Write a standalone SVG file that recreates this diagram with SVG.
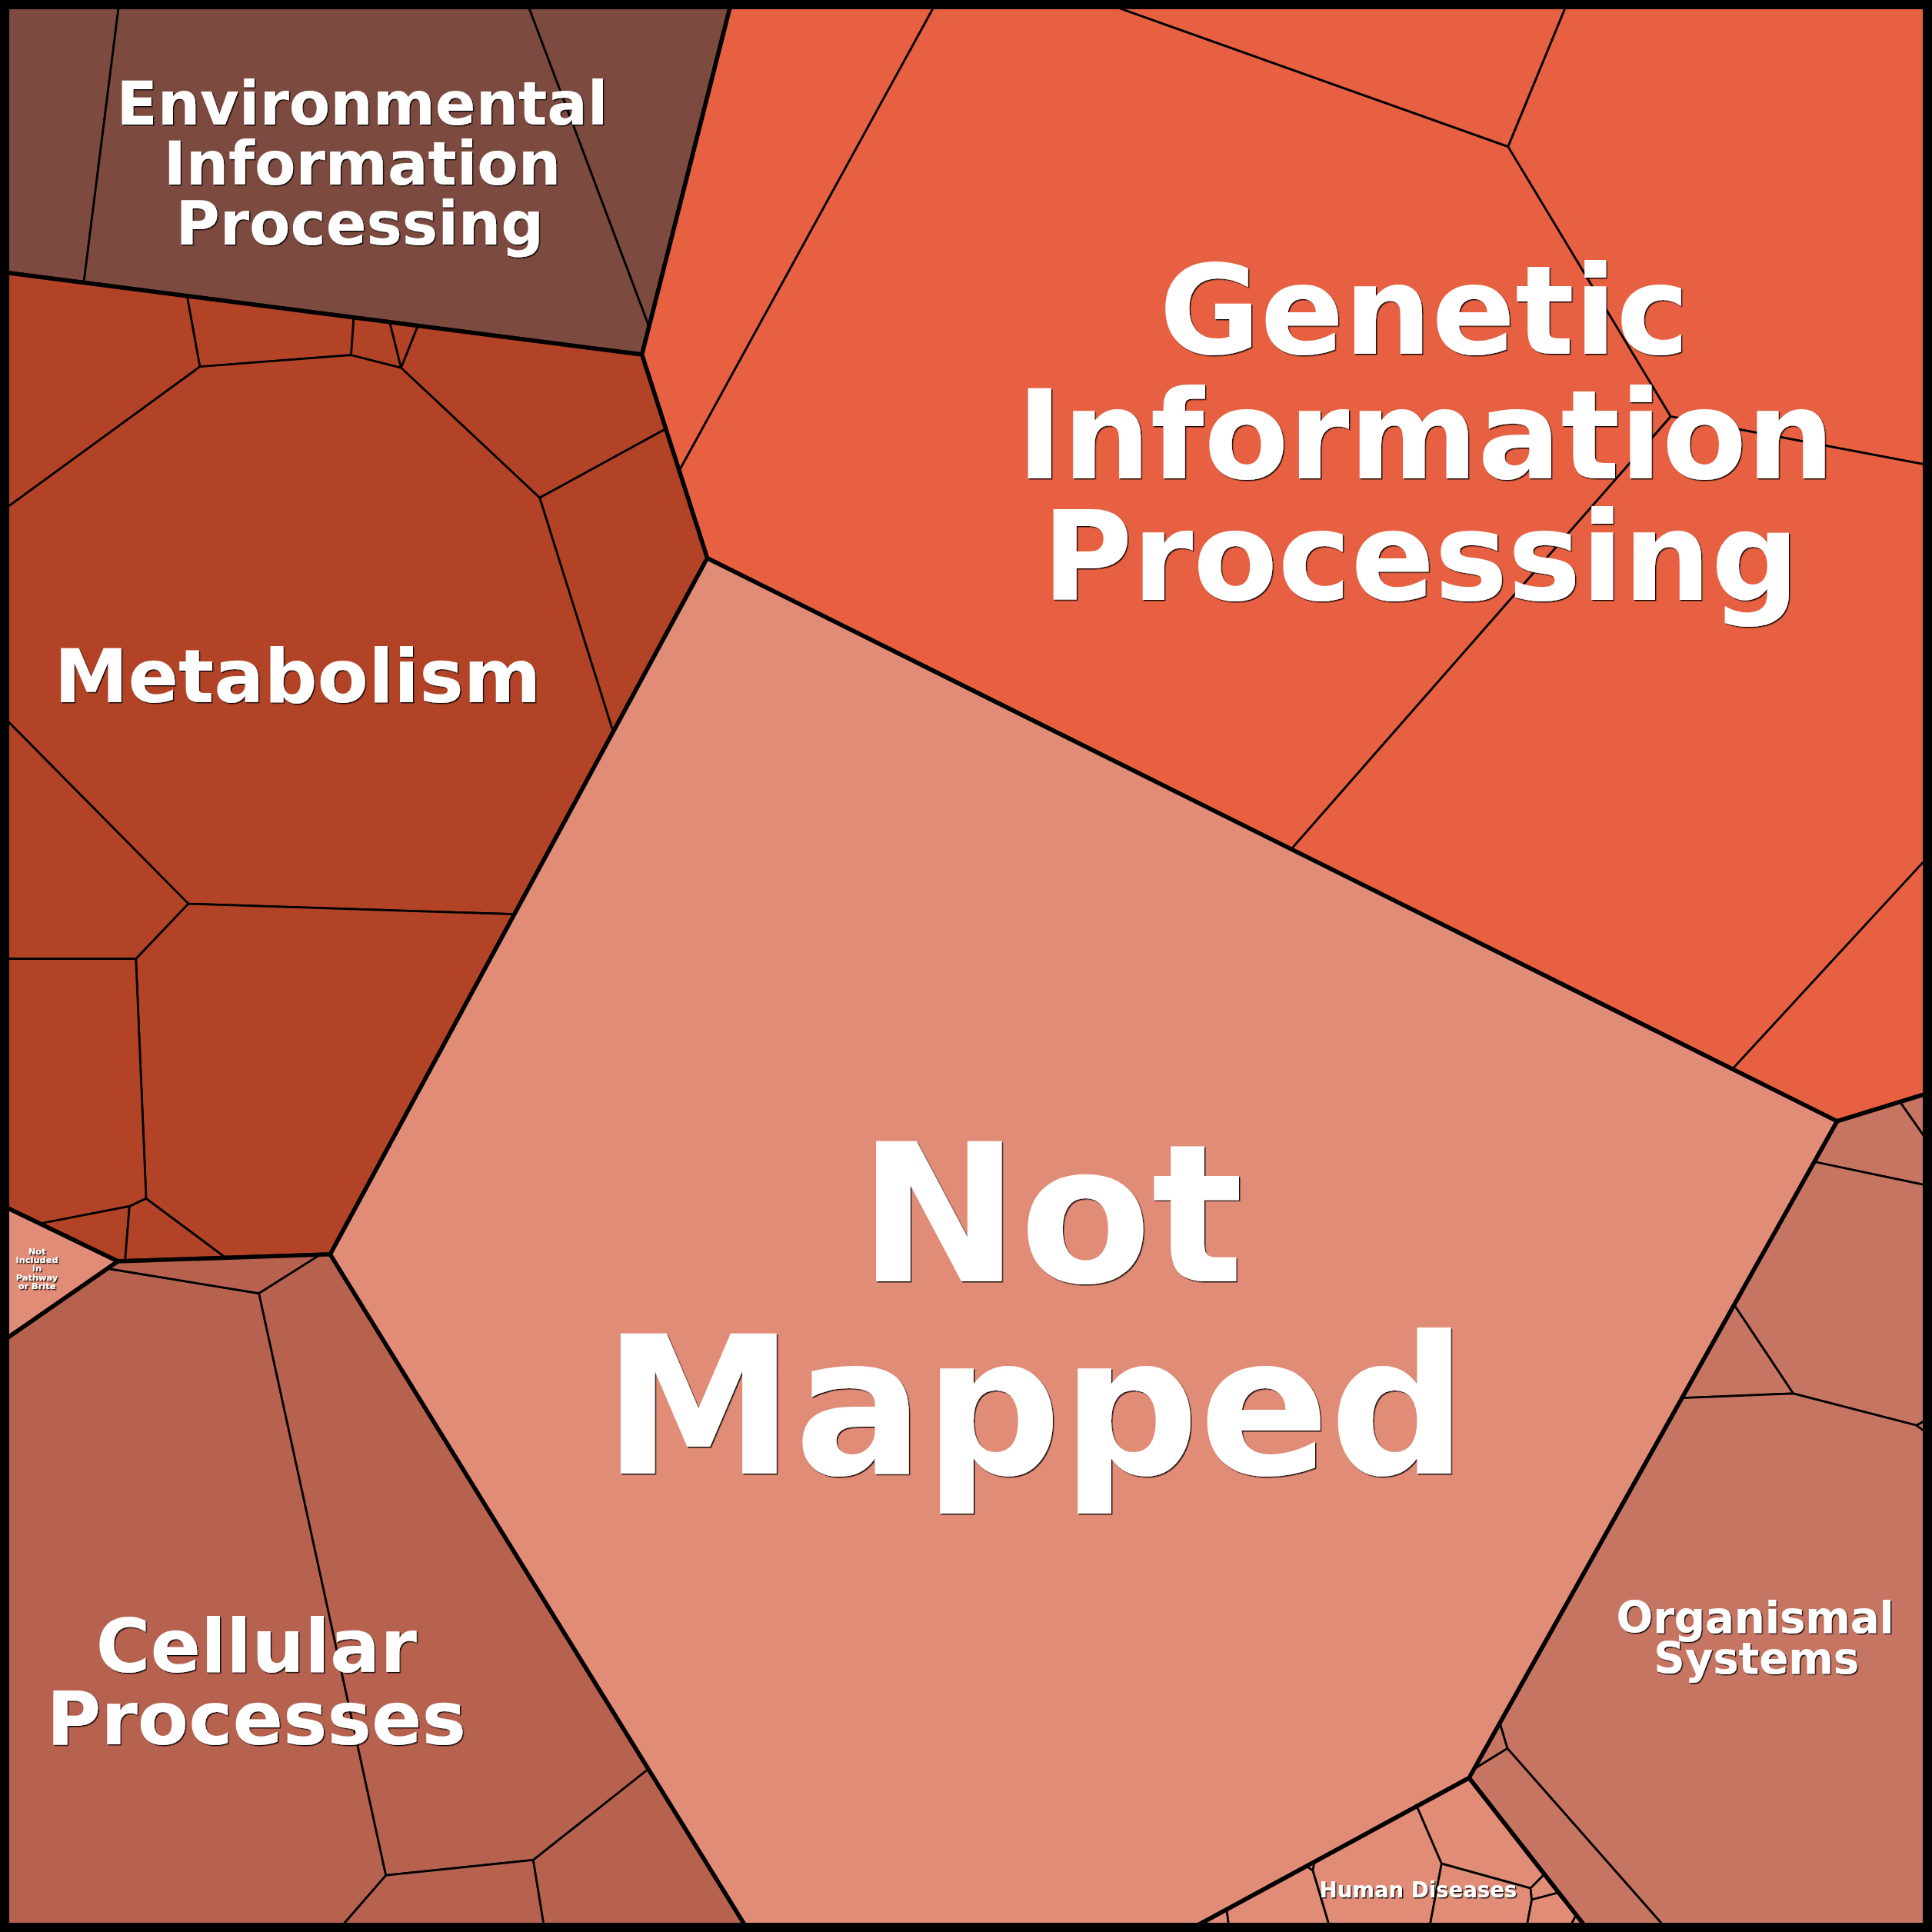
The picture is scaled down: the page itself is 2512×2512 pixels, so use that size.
<svg xmlns="http://www.w3.org/2000/svg" width="2512" height="2512" viewBox="0 0 2512 2512">
<style>
.c{stroke:#000;stroke-width:1.7;stroke-linejoin:round}
.o{fill:none;stroke:#000;stroke-width:3.4;stroke-linejoin:round}
.env{fill:#7C4A3F}
.gen{fill:#E66041}
.met{fill:#B34327}
.nm{fill:#E18C77}
.cel{fill:#B7624F}
.org{fill:#C77563}
.hd{fill:#E18C77}
.l{font-family:"DejaVu Sans","Liberation Sans",sans-serif;font-weight:bold;fill:#fff;text-anchor:middle}
</style>
<defs>
<filter id="sh" x="-5%" y="-5%" width="115%" height="120%">
<feDropShadow dx="0.9" dy="0.9" stdDeviation="0.35" flood-color="#000" flood-opacity="0.9"/>
</filter>
</defs>
<g transform="scale(1.60204)">
<g id="environmental">
<polygon class="c env" points="0,0 97,0 68,229.4 0,220.6"/>
<polygon class="c env" points="97,0 427,0 526.8,265 521,287.8 68,229.4"/>
<polygon class="c env" points="427,0 594,0 526.8,265"/>
<polygon class="o" points="0,0 594,0 521,287.8 0,220.6"/>
<text class="l" filter="url(#sh)" font-size="48.6" x="294"><tspan x="294" y="101">Environmental</tspan><tspan x="294" y="149.8">Information</tspan><tspan x="292" y="198.7">Processing</tspan></text>
</g>
<g id="genetic">
<polygon class="c gen" points="594,0 761,0 551.3,382 521,287.8"/>
<polygon class="c gen" points="761,0 890,0 1224,119 1356,338 1048,689.2 574,453 551.3,382"/>
<polygon class="c gen" points="890,0 1273,0 1224,119"/>
<polygon class="c gen" points="1273,0 1568,0 1568,378 1356,338 1224,119"/>
<polygon class="c gen" points="1356,338 1568,378 1568,692 1406,867.7 1048,689.2"/>
<polygon class="c gen" points="1568,692 1568,886.3 1491,910 1406,867.7"/>
<polygon class="o" points="594,0 1568,0 1568,886.3 1491,910 574,453 521,287.8"/>
<text class="l" filter="url(#sh)" font-size="100" x="1156"><tspan x="1156" y="287">Genetic</tspan><tspan x="1157" y="388">Information</tspan><tspan x="1153" y="487">Processing</tspan></text>
</g>
<g id="metabolism">
<polygon class="c met" points="0,220.6 151.9,240.2 162.3,297.6 0,416"/>
<polygon class="c met" points="151.9,240.2 287.1,257.9 285,288.2 162.3,297.6"/>
<polygon class="c met" points="287.1,257.9 316.3,261.5 325.6,298.6 285,288.2"/>
<polygon class="c met" points="316.3,261.5 339.1,264.5 325.6,298.6"/>
<polygon class="c met" points="339.1,264.5 521,287.8 540.5,348 438,404 325.6,298.6"/>
<polygon class="c met" points="540.5,348 574,453 497.6,594 438,404"/>
<polygon class="c met" points="0,416 162.3,297.6 285,288.2 325.6,298.6 438,404 497.6,594 417.5,742 152.9,733.5 0,579"/>
<polygon class="c met" points="0,579 152.9,733.5 110.3,778.2 0,778.2"/>
<polygon class="c met" points="152.9,733.5 417.5,742 268,1018 183.1,1020.8 118.6,972.7 110.3,778.2"/>
<polygon class="c met" points="0,778.2 110.3,778.2 118.6,972.7 105.1,979 32.3,993.1 0,977.5"/>
<polygon class="c met" points="32.3,993.1 105.1,979 101.5,1023.5 95.7,1023.7"/>
<polygon class="c met" points="105.1,979 118.6,972.7 183.1,1020.8 101.5,1023.5"/>
<polygon class="o" points="0,220.6 521,287.8 574,453 268,1018 95.7,1023.7 0,977.5"/>
<text class="l" filter="url(#sh)" font-size="60.3" x="241.5" y="570">Metabolism</text>
</g>
<g id="not-included">
<polygon class="c nm" points="0,977.5 95.7,1023.7 0,1090"/>
<polygon class="o" points="0,977.5 95.7,1023.7 0,1090"/>
<text class="l" filter="url(#sh)" font-size="7.1" x="30"><tspan x="30" y="1017.9">Not</tspan><tspan x="30" y="1024.9">Included</tspan><tspan x="30" y="1032">in</tspan><tspan x="30" y="1039.2">Pathway</tspan><tspan x="30" y="1046">or Brite</tspan></text>
</g>
<g id="cellular">
<polygon class="c cel" points="0,1090 87.4,1029.5 210.2,1049.7 313.2,1522 273.3,1568 0,1568"/>
<polygon class="c cel" points="95.7,1023.7 259.9,1018.3 210.2,1049.7 87.4,1029.5"/>
<polygon class="c cel" points="259.9,1018.3 268,1018 526.3,1435.7 432.8,1509.6 313.2,1522 210.2,1049.7"/>
<polygon class="c cel" points="313.2,1522 432.8,1509.6 442.3,1568 273.3,1568"/>
<polygon class="c cel" points="432.8,1509.6 526.3,1435.7 608,1568 442.3,1568"/>
<polygon class="o" points="0,1090 95.7,1023.7 268,1018 608,1568 0,1568"/>
<text class="l" filter="url(#sh)" font-size="60.3" x="208"><tspan x="208" y="1357">Cellular</tspan><tspan x="208" y="1416">Processes</tspan></text>
</g>
<g id="not-mapped">
<polygon class="c nm" points="268,1018 574,453 1491,910 1192.3,1443 962,1568 608,1568"/>
<polygon class="o" points="268,1018 574,453 1491,910 1192.3,1443 962,1568 608,1568"/>
<text class="l" filter="url(#sh)" font-size="156" x="848"><tspan x="853" y="1040">Not</tspan><tspan x="840" y="1196">Mapped</tspan></text>
</g>
<g id="organismal">
<polygon class="c org" points="1541.8,894 1568,886.3 1568,931.4"/>
<polygon class="c org" points="1491,910 1541.8,894 1568,931.4 1568,963 1473,943"/>
<polygon class="c org" points="1473,943 1568,963 1568,1150 1555.4,1156.8 1455.4,1131 1407.4,1059"/>
<polygon class="c org" points="1407.4,1059 1455.4,1131 1366,1134.5"/>
<polygon class="c org" points="1366,1134.5 1455.4,1131 1555.4,1156.8 1568,1166 1568,1568 1354.6,1568 1223.4,1419 1217.5,1399.3"/>
<polygon class="c org" points="1555.4,1156.8 1568,1150 1568,1166"/>
<polygon class="c org" points="1217.5,1399.3 1223.4,1419 1196.4,1435.7"/>
<polygon class="c org" points="1196.4,1435.7 1223.4,1419 1354.6,1568 1290,1568 1192.3,1443"/>
<polygon class="o" points="1491,910 1568,886.3 1568,1568 1290,1568 1192.3,1443"/>
<text class="l" filter="url(#sh)" font-size="35" x="1424.5"><tspan x="1424.5" y="1325">Organismal</tspan><tspan x="1425.5" y="1358">Systems</tspan></text>
</g>
<g id="human-diseases">
<polygon class="c hd" points="962,1568 995.6,1550 998,1568"/>
<polygon class="c hd" points="995.6,1550 1060.5,1514.7 1065.5,1518 1080.4,1568 998,1568"/>
<polygon class="c hd" points="1060.5,1514.7 1066.8,1511.3 1065.5,1518"/>
<polygon class="c hd" points="1066.8,1511.3 1150,1466.1 1170,1512.5 1159.5,1568 1080.4,1568 1065.5,1518"/>
<polygon class="c hd" points="1150,1466.1 1192.3,1443 1253.5,1521 1242.2,1532.5 1170,1512.5"/>
<polygon class="c hd" points="1170,1512.5 1242.2,1532.5 1243.2,1541.8 1238.3,1568 1159.5,1568"/>
<polygon class="c hd" points="1242.2,1532.5 1253.5,1521 1265,1536 1243.2,1541.8"/>
<polygon class="c hd" points="1243.2,1541.8 1265,1536 1279.3,1554 1272,1568 1238.3,1568"/>
<polygon class="c hd" points="1279.3,1554 1290,1568 1272,1568"/>
<polygon class="o" points="1192.3,1443 1290,1568 962,1568"/>
<text class="l" filter="url(#sh)" font-size="17.2" x="1151" y="1539.7">Human Diseases</text>
</g>
<rect x="0" y="0" width="1568" height="1568" fill="none" stroke="#000" stroke-width="15"/>
</g>
</svg>
